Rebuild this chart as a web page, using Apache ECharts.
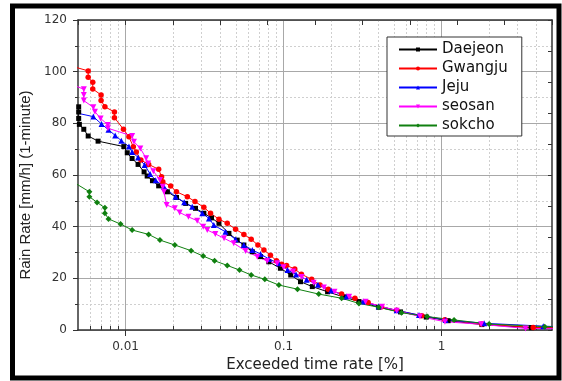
<!DOCTYPE html>
<html>
<head>
<meta charset="utf-8">
<script src="https://cdn.jsdelivr.net/npm/echarts@6/dist/echarts.min.js"></script>
<style>
html,body{margin:0;padding:0;background:#fff;}
#chart{width:562px;height:381px;}
</style>
</head>
<body>
<div id="chart"></div>
<script>
// ---- data: [exceeded time rate %, rain rate mm/h] ----
const seriesNames = ['Daejeon', 'Gwangju', 'Jeju', 'seosan', 'sokcho'];

const daejeon = [
  [0.00505, 86.4], [0.00505, 84.4], [0.00505, 81.9], [0.0051, 79.6], [0.00544, 77.7],
  [0.0058, 75.1], [0.0067, 73.1], [0.00975, 71.0], [0.01025, 68.6], [0.0110, 66.4],
  [0.0120, 64.1], [0.0131, 61.2], [0.0137, 59.6], [0.0148, 57.8], [0.0162, 55.8],
  [0.0184, 53.5], [0.021, 51.3], [0.024, 49.0], [0.0277, 47.1], [0.0313, 45.2],
  [0.035, 43.4], [0.039, 41.3], [0.0451, 37.4], [0.0509, 34.8], [0.0561, 32.9],
  [0.0634, 30.3], [0.0715, 28.4], [0.0807, 26.4], [0.0955, 23.9], [0.111, 21.3],
  [0.128, 18.7], [0.152, 16.8], [0.19, 14.8], [0.24, 12.8], [0.30, 11.0],
  [0.40, 8.8], [0.55, 7.0], [0.80, 5.0], [1.1, 3.6], [1.8, 2.1], [3.7, 0.9], [5.3, 0.8]
];

const gwangju = [
  [0.0049, 101.6], [0.0058, 100.3], [0.0058, 97.8], [0.0062, 95.9], [0.0062, 93.3],
  [0.0070, 91.0], [0.0070, 88.8], [0.0074, 86.4], [0.0085, 84.4], [0.0085, 82.2],
  [0.0097, 77.7], [0.0105, 74.8], [0.0112, 70.9], [0.0117, 68.9], [0.0125, 65.8],
  [0.0140, 64.1], [0.0162, 62.2], [0.0169, 59.3], [0.0172, 57.4], [0.0193, 55.7],
  [0.021, 53.5], [0.0246, 51.6], [0.0275, 49.7], [0.0313, 47.5], [0.0345, 45.2],
  [0.039, 42.9], [0.044, 41.3], [0.0497, 39.0], [0.0561, 37.0], [0.0624, 35.1],
  [0.0688, 32.9], [0.0751, 31.0], [0.0826, 28.9], [0.0902, 26.8], [0.0973, 25.5],
  [0.1045, 25.0], [0.1177, 23.6], [0.1297, 21.6], [0.1506, 19.6], [0.170, 17.4],
  [0.192, 15.8], [0.233, 13.9], [0.283, 12.3], [0.343, 10.6], [0.417, 9.0],
  [0.52, 7.6], [0.75, 5.5], [1.05, 4.0], [1.8, 2.3], [3.8, 1.0], [5.3, 0.9]
];

const jeju = [
  [0.0049, 84.0], [0.00625, 82.6], [0.00705, 79.7], [0.0078, 77.5], [0.0086, 75.3],
  [0.0094, 73.3], [0.0105, 71.0], [0.0110, 68.9], [0.0120, 66.8], [0.0132, 63.9],
  [0.0143, 60.4], [0.0155, 58.0], [0.0175, 55.5], [0.0207, 51.6], [0.0235, 49.5],
  [0.0264, 47.7], [0.0306, 45.2], [0.0337, 43.2], [0.0362, 40.6], [0.0429, 38.0],
  [0.0497, 35.1], [0.0561, 32.9], [0.0634, 31.0], [0.0715, 29.4], [0.0807, 27.5],
  [0.093, 25.8], [0.106, 23.2], [0.12, 21.5], [0.14, 19.5], [0.165, 17.5],
  [0.20, 15.3], [0.25, 13.0], [0.32, 11.0], [0.40, 9.2], [0.52, 7.6],
  [0.72, 5.8], [1.06, 3.9], [1.86, 2.6], [4.4, 1.5], [5.3, 1.3]
];

const seosan = [
  [0.0049, 94.3], [0.00544, 93.2], [0.00544, 91.0], [0.00544, 88.8], [0.00625, 86.2],
  [0.0064, 84.5], [0.00695, 81.9], [0.00773, 79.4], [0.00773, 78.1], [0.0110, 75.1],
  [0.0113, 72.9], [0.0124, 70.3], [0.0135, 66.5], [0.0139, 64.5], [0.0150, 61.5],
  [0.0165, 58.1], [0.0172, 55.5], [0.0175, 53.5], [0.0182, 48.4], [0.0205, 47.1],
  [0.022, 45.5], [0.025, 43.8], [0.0284, 42.3], [0.031, 40.0], [0.0329, 38.7],
  [0.037, 37.2], [0.042, 35.5], [0.0484, 33.6], [0.0575, 30.6], [0.0682, 28.4],
  [0.0788, 26.7], [0.0911, 25.8], [0.10, 24.3], [0.115, 22.6], [0.13, 20.5],
  [0.155, 18.3], [0.18, 16.5], [0.21, 14.8], [0.26, 12.9], [0.33, 10.9],
  [0.42, 9.0], [0.52, 7.5], [0.73, 5.2], [1.05, 3.2], [1.78, 2.2], [3.4, 0.6], [5.3, 0.5]
];

const sokcho = [
  [0.0049, 56.5], [0.0059, 53.5], [0.0059, 51.6], [0.0066, 49.4], [0.0074, 47.3],
  [0.0074, 45.2], [0.0078, 43.0], [0.0093, 41.0], [0.0110, 38.7], [0.0140, 37.0],
  [0.0165, 34.8], [0.0205, 32.9], [0.0260, 30.7], [0.0310, 28.6], [0.0366, 26.8],
  [0.044, 25.0], [0.0526, 23.2], [0.0624, 21.3], [0.0761, 19.6], [0.0934, 17.4],
  [0.1225, 15.8], [0.167, 13.9], [0.233, 12.3], [0.30, 10.3], [0.40, 8.8],
  [0.558, 6.7], [0.81, 5.2], [1.2, 3.9], [2.0, 2.3], [4.5, 1.3], [5.3, 1.2]
];

// ---- ticks ----
const xMajorTicks = [0.01, 0.1, 1];
const xMinorTicks = [0.006, 0.007, 0.008, 0.009,
  0.02, 0.03, 0.04, 0.05, 0.06, 0.07, 0.08, 0.09,
  0.2, 0.3, 0.4, 0.5, 0.6, 0.7, 0.8, 0.9,
  2, 3, 4];

const colors = ['#000000', '#ff0000', '#0000ff', '#ff00ff', '#108010'];
const symbols = ['rect', 'circle', 'triangle', 'triangle', 'diamond'];
const symbolSizes = [5, 5.5, 6, 6, 6];
const symbolRotates = [0, 0, 0, 180, 0];
const allData = [daejeon, gwangju, jeju, seosan, sokcho];

const chart = echarts.init(document.getElementById('chart'), null, {renderer: 'canvas'});

const axisColor = '#333';
const tickFont = {fontFamily: 'DejaVu Sans', fontSize: 12, color: '#333'};

const option = {
  animation: false,
  backgroundColor: '#fff',
  textStyle: {fontFamily: 'DejaVu Sans'},
  grid: {left: 78, right: 10, top: 20, bottom: 51, containLabel: false, outerBoundsMode: 'none'},
  legend: {
    data: seriesNames,
    orient: 'vertical',
    left: 387,
    top: 37,
    itemWidth: 38,
    itemHeight: 5,
    itemGap: 4,
    padding: [5, 14, 3, 11],
    borderColor: '#333',
    borderWidth: 1,
    backgroundColor: '#fff',
    textStyle: {fontFamily: 'DejaVu Sans', fontSize: 15, color: '#111'}
  },
  xAxis: [
    {
      type: 'log', logBase: 10, min: 0.005, max: 5,
      name: 'Exceeded time rate [%]', nameLocation: 'middle', nameGap: 27,
      nameTextStyle: {fontFamily: 'DejaVu Sans', fontSize: 15, color: '#222', verticalAlign: 'top'},
      axisLine: {show: true, lineStyle: {color: axisColor, width: 1.5}},
      axisTick: {show: true, inside: false, length: 6, customValues: xMajorTicks, lineStyle: {color: axisColor}},
      axisLabel: {show: true, margin: 11, customValues: xMajorTicks,
        formatter: v => String(Number(Number(v).toPrecision(6))), ...tickFont},
      splitLine: {show: true, lineStyle: {color: '#a8a8a8', width: 1}},
      minorTick: {show: false}, minorSplitLine: {show: false}
    },
    {
      type: 'log', logBase: 10, min: 0.005, max: 5,
      axisLine: {show: false},
      axisTick: {show: true, inside: false, length: 4, customValues: xMinorTicks, lineStyle: {color: axisColor}},
      axisLabel: {show: false},
      splitLine: {show: true, lineStyle: {color: '#cfcfcf', width: 1, type: [2, 2]}}
    },
    {
      type: 'value', min: 0, max: 10, interval: 1, position: 'top',
      axisLine: {show: true, lineStyle: {color: axisColor, width: 1.5}},
      axisTick: {show: true, inside: true, length: 5, lineStyle: {color: axisColor}},
      axisLabel: {show: false},
      splitLine: {show: false}
    }
  ],
  yAxis: [
    {
      type: 'value', min: 0, max: 120, interval: 20,
      name: 'Rain Rate [mm/h] (1-minute)', nameLocation: 'middle', nameGap: 40, nameRotate: 90,
      nameTextStyle: {fontFamily: 'Liberation Sans', fontSize: 15, color: '#222', padding: [0, 20, 0, 0]},
      axisLine: {show: true, lineStyle: {color: axisColor, width: 1.5}},
      axisTick: {show: true, inside: false, length: 5, lineStyle: {color: axisColor}},
      minorTick: {show: true, splitNumber: 2, length: 3, lineStyle: {color: axisColor}},
      axisLabel: {show: true, margin: 11, ...tickFont},
      splitLine: {show: true, lineStyle: {color: '#a8a8a8', width: 1}},
      minorSplitLine: {show: true, lineStyle: {color: '#cfcfcf', width: 1, type: [2, 2]}}
    },
    {
      type: 'value', min: 0, max: 10, interval: 1, position: 'right',
      axisLine: {show: true, lineStyle: {color: axisColor, width: 1.5}},
      axisTick: {show: true, inside: true, length: 4, lineStyle: {color: axisColor}},
      axisLabel: {show: false},
      splitLine: {show: false}
    }
  ],
  graphic: [{
    type: 'rect', silent: true, z: 100,
    shape: {x: 12.5, y: 6, width: 546.5, height: 372},
    style: {fill: 'none', stroke: '#000', lineWidth: 5}
  }],
  series: seriesNames.map((name, i) => ({
    name: name,
    type: 'line',
    xAxisIndex: 0, yAxisIndex: 0,
    data: allData[i],
    clip: true,
    symbol: symbols[i],
    symbolSize: symbolSizes[i],
    symbolRotate: symbolRotates[i],
    showAllSymbol: true,
    itemStyle: {color: colors[i]},
    lineStyle: {color: colors[i], width: 1},
    emphasis: {disabled: true}
  }))
};

chart.setOption(option);
</script>
</body>
</html>
